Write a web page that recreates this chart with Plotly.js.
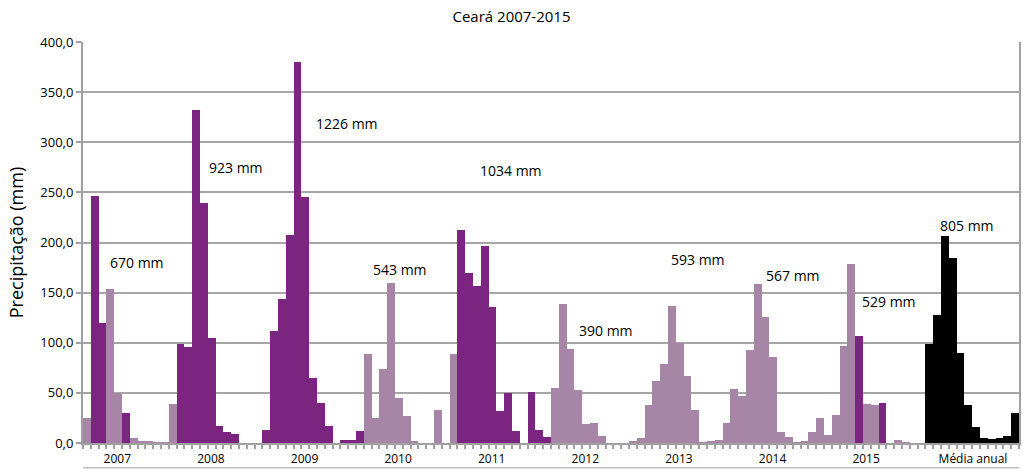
<!DOCTYPE html>
<html>
<head>
<meta charset="utf-8">
<script src="https://cdn.plot.ly/plotly-3.0.1.min.js"></script>
<style>html,body{margin:0;padding:0;background:#fff}#chart{width:1023px;height:469px}</style>
</head>
<body>
<div id="chart"></div>
<script>
// Monthly precipitation (mm), Jan..Dec for each year, plus monthly mean
const groups = ["2007","2008","2009","2010","2011","2012","2013","2014","2015","Média anual"];
const v2007 = [25,246,120,154,50,30,5,2,2,1,1,39];
const v2008 = [99,96,332,239,105,17,11,9,0,0,0,13];
const v2009 = [112,144,207.5,380,245,64.5,40,17,0,3,3,12];
const v2010 = [89,25,74,160,45,27,2,0,0,33,0,89];
const v2011 = [212.5,170,157,197,136,32,50,12,0,51,13,6];
const v2012 = [54.5,138.6,94,53,19,20,7,0,0,0,2,5];
const v2013 = [38,62,79,137,100,67,33,1,2,3,20,54];
const v2014 = [47,93,158.6,126,85.5,11,5.7,1,2,11,25,8];
const v2015 = [28,97,178.5,107,39,38,40,0,3,1,0,0];
const vMedia = [99,128,206.5,185,90,38,16,5,3.7,4.5,7,30];
// bar shade per month: D = dark purple, L = light purple, K = black (mean)
const s2007 = ["L","D","D","L","L","D","L","L","L","L","L","L"];
const s2008 = ["D","D","D","D","D","D","D","D","D","D","D","D"];
const s2009 = ["D","D","D","D","D","D","D","D","D","D","D","D"];
const s2010 = ["L","L","L","L","L","L","L","L","L","L","L","L"];
const s2011 = ["D","D","D","D","D","D","D","D","D","D","D","D"];
const s2012 = ["L","L","L","L","L","L","L","L","L","L","L","L"];
const s2013 = ["L","L","L","L","L","L","L","L","L","L","L","L"];
const s2014 = ["L","L","L","L","L","L","L","L","L","L","L","L"];
const s2015 = ["L","L","L","D","L","L","D","L","L","L","L","L"];
const sMedia = ["K","K","K","K","K","K","K","K","K","K","K","K"];
const totals = ["670 mm","923 mm","1226 mm","543 mm","1034 mm","390 mm","593 mm","567 mm","529 mm","805 mm"];

const series = [v2007,v2008,v2009,v2010,v2011,v2012,v2013,v2014,v2015,vMedia];
const shades = [s2007,s2008,s2009,s2010,s2011,s2012,s2013,s2014,s2015,sMedia];
const palette = {D:"#7B2480", L:"#A685A7", K:"#000000"};

const x = [], y = [], colors = [];
series.forEach((arr,g)=>arr.forEach((val,m)=>{
  x.push(g*12+m); y.push(val); colors.push(palette[shades[g][m]]);
}));

// label placements (x index, y value) for the annual totals
const totalPos = [[6.4,180],[19.1,275],[33.4,319],[40.2,173.5],[54.4,272],[66.5,112.5],[78.3,183.5],[90.5,167.5],[102.8,141.5],[112.8,216.5]];

const tickvals = groups.map((g,i)=> i<9 ? i*12+3.9 : i*12+5.6);

const layout = {
  width:1023, height:469,
  margin:{l:83, r:4, t:42, b:26},
  paper_bgcolor:"#fff", plot_bgcolor:"#fff",
  font:{family:"Open Sans, sans-serif", color:"#000"},
  title:{text:"Ceará 2007-2015", x:0.5, xanchor:"center", y:0.975, yanchor:"top", font:{size:15, color:"#000"}},
  bargap:0,
  showlegend:false,
  xaxis:{
    range:[-0.5,119.5], showgrid:false, zeroline:false,
    showline:true, linecolor:"#A0A0A0", linewidth:2,
    tickmode:"array", tickvals:tickvals, ticktext:groups,
    ticks:"", ticklabelstandoff:4, tickfont:{size:12},
    minor:{ticks:"outside", ticklen:4, tickcolor:"#A0A0A0", tickwidth:2, tick0:-0.5, dtick:1, showgrid:false}
  },
  yaxis:{
    range:[0,400], dtick:50, tickformat:".1f",
    showgrid:true, gridcolor:"#A6A6A6", gridwidth:2, zeroline:false,
    showline:true, mirror:true, linecolor:"#A0A0A0", linewidth:2,
    ticks:"outside", ticklen:5, tickcolor:"#A0A0A0", tickwidth:2,
    tickfont:{size:13},
    title:{text:"Precipitação (mm)", font:{size:18}, standoff:12}
  },
  separators:",.",
  annotations: totals.map((t,i)=>({x:totalPos[i][0], y:totalPos[i][1], xref:"x", yref:"y", text:t, showarrow:false, font:{size:14, color:"#000"}})),
  shapes:[{type:"line", xref:"paper", yref:"paper", x0:0, x1:1, y0:-0.062, y1:-0.062, line:{color:"#A0A0A0", width:1}}]
};

Plotly.newPlot("chart",[{type:"bar", x:x, y:y, marker:{color:colors, line:{width:0}}, hoverinfo:"y"}], layout, {displayModeBar:false, staticPlot:true});
</script>
</body>
</html>
